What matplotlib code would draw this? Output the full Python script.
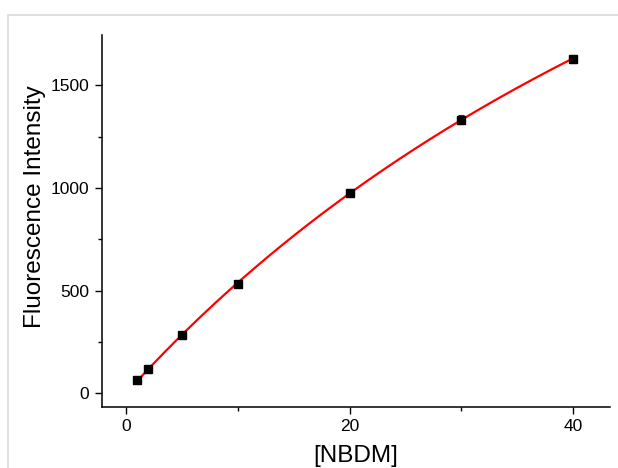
import numpy as np
import matplotlib
matplotlib.use("Agg")
import matplotlib.pyplot as plt
from matplotlib.patches import Rectangle

plt.rcParams["font.family"] = ["Liberation Sans", "DejaVu Sans"]

# data
nbdm = [1, 2, 5, 10, 20, 30, 40]
intensity = [65, 120, 283, 532, 978, 1333, 1630]
intensity_err = [8, 8, 8, 8, 18, 22, 20]


def fit_hyperbola(x, y):
    # one-site binding fit: y = bmax * x / (kd + x), scan kd, solve bmax
    x = np.asarray(x, float)
    y = np.asarray(y, float)
    best = None
    for kd in np.linspace(1, 300, 3000):
        g = x / (kd + x)
        bmax = np.dot(g, y) / np.dot(g, g)
        err = np.sum((y - bmax * g) ** 2)
        if best is None or err < best[0]:
            best = (err, bmax, kd)
    return best[1], best[2]


bmax, kd = fit_hyperbola(nbdm, intensity)
xfit = np.linspace(min(nbdm), max(nbdm), 200)
yfit = bmax * xfit / (kd + xfit)

fig = plt.figure(figsize=(6.18, 4.68), dpi=100)
fig.patches.append(Rectangle((0.013, -0.1), 1.2, 0.968 + 0.1,
                             transform=fig.transFigure, fill=False,
                             edgecolor="#d9d9d9", linewidth=1.2))
ax = fig.add_axes([0.165, 0.130, 0.822, 0.795])

ax.plot(xfit, yfit, color="red", linewidth=1.6, zorder=2)
ax.errorbar(nbdm, intensity, yerr=intensity_err, fmt="s", color="black",
            markersize=6, ecolor="#333333", elinewidth=0.8, capsize=2.5,
            capthick=0.8, zorder=3)

ax.set_xlim(-2.15, 43.3)
ax.set_ylim(-68, 1745)
ax.set_xticks([0, 20, 40])
ax.set_xticks([10, 30], minor=True)
ax.set_yticks([0, 500, 1000, 1500])
ax.set_yticks([250, 750, 1250], minor=True)

for side in ("top", "right"):
    ax.spines[side].set_visible(False)
for side in ("left", "bottom"):
    ax.spines[side].set_linewidth(1.1)

ax.tick_params(which="major", direction="out", length=5, width=1,
               labelsize=12.5, colors="black")
ax.tick_params(which="minor", direction="out", length=3, width=1)
ax.tick_params(axis="y", pad=4)

ax.set_xlabel("[NBDM]", fontsize=17.5, labelpad=8)
ax.set_ylabel("Fluorescence Intensity", fontsize=17.5)
ax.yaxis.set_label_coords(-0.11, 0.54)

fig.savefig("out.png", dpi=100)
